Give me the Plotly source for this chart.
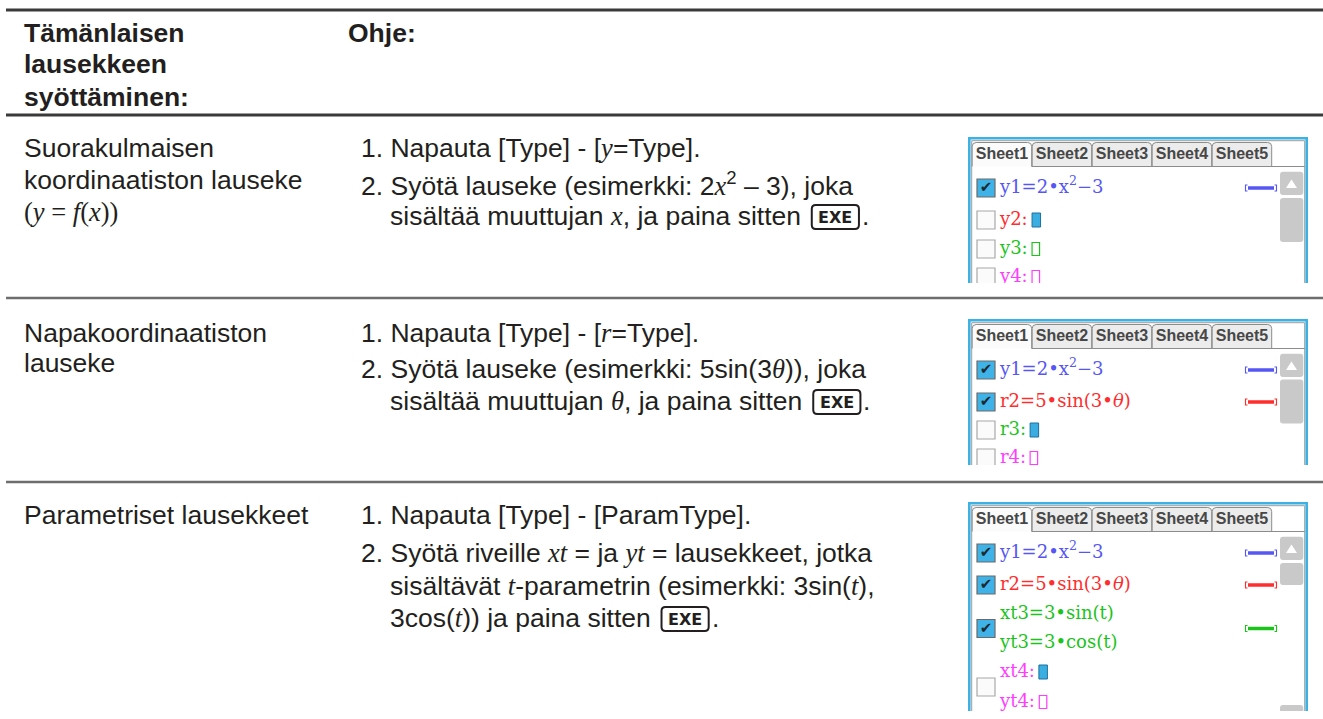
import re
import plotly.graph_objects as go

# ---------------- content of the table ----------------
header_left = ["Tämänlaisen", "lausekkeen", "syöttäminen:"]
header_right = "Ohje:"

# {..} = italic serif variable, ^..^ = superscript, [EXE] = key glyph, leading § = serif line
row_labels = [
    ["Suorakulmaisen", "koordinaatiston lauseke", "§({y} = {f}({x}))"],
    ["Napakoordinaatiston", "lauseke"],
    ["Parametriset lausekkeet"],
]

row_steps = [
    [["1. Napauta [Type] - [{y}=Type]."],
     ["2. Syötä lauseke (esimerkki: 2{x}^2^ – 3), joka",
      "sisältää muuttujan {x}, ja paina sitten [EXE]."]],
    [["1. Napauta [Type] - [{r}=Type]."],
     ["2. Syötä lauseke (esimerkki: 5sin(3{θ})), joka",
      "sisältää muuttujan {θ}, ja paina sitten [EXE]."]],
    [["1. Napauta [Type] - [ParamType]."],
     ["2. Syötä riveille {xt} = ja {yt} = lausekkeet, jotka",
      "sisältävät {t}-parametrin (esimerkki: 3sin({t}),",
      "3cos({t})) ja paina sitten [EXE]."]],
]

sheet_tabs = ["Sheet1", "Sheet2", "Sheet3", "Sheet4", "Sheet5"]

# screen entries: (lines, colour, checked); trailing '#' = filled cursor, '_' = empty cursor
screen_entries = [
    [(["y1=2•x<sup>2</sup>−3"], "blue", True),
     (["y2:#"], "red", False),
     (["y3:_"], "green", False),
     (["y4:_"], "magenta", False)],
    [(["y1=2•x<sup>2</sup>−3"], "blue", True),
     (["r2=5•sin(3•<i>θ</i>)"], "red", True),
     (["r3:#"], "green", False),
     (["r4:_"], "magenta", False)],
    [(["y1=2•x<sup>2</sup>−3"], "blue", True),
     (["r2=5•sin(3•<i>θ</i>)"], "red", True),
     (["xt3=3•sin(t)", "yt3=3•cos(t)"], "green", True),
     (["xt4:#", "yt4:_"], "magenta", False)],
]

# ---------------- layout constants ----------------
W, H = 1323, 719
BODY = 26.5
SANS = "Liberation Sans, Arial, Helvetica, sans-serif"
SERIF = "Liberation Serif, Times New Roman, serif"
SCREEN_FONT = "DejaVu Serif, serif"
SCREEN_SIZE = 18
INK = "#231f20"

LABEL_X, OHJE_X, STEP_X = 23, 347, 360
HEAD_Y = [33, 64, 97]
label_y = [[148, 180, 212], [333, 363], [515]]
step_y = [[[148], [184, 216]], [[333], [369, 401]], [[515], [553, 586, 618]]]
rule_y = [(10, 3, "#3a3a3a"), (115, 3, "#3a3a3a"), (298, 2.5, "#6e6e6e"), (482, 2.5, "#6e6e6e")]

screen_boxes = [(968, 137, 1308, 283), (968, 319, 1308, 465), (968, 502, 1308, 711)]
screen_row_y = [[[51], [83], [112], [140]],
                [[51], [83], [111], [139]],
                [[51], [83], [112, 141], [170, 200]]]
screen_thumbs = [[(61, 105)], [(60.5, 104.5)], [(61, 83), (203, 226)]]
ROW_COL = {"blue": "#5656f5", "red": "#ff2d2d", "green": "#1bc41b", "magenta": "#ff3cff"}

# ---------------- font metrics ----------------
ARIAL = {' ': 278, '!': 278, '(': 333, ')': 333, ',': 278, '-': 333, '.': 278, ':': 278,
         '=': 584, '[': 278, ']': 278, '–': 556}
for c in "0123456789":
    ARIAL[c] = 556
for c, w in zip("ABCDEFGHIJKLMNOPQRSTUVWXYZ",
                [667, 667, 722, 722, 667, 611, 778, 722, 278, 500, 667, 556, 833, 722, 778,
                 667, 778, 722, 667, 611, 722, 667, 944, 667, 667, 611]):
    ARIAL[c] = w
for c, w in zip("abcdefghijklmnopqrstuvwxyz",
                [556, 556, 500, 556, 556, 278, 556, 556, 222, 222, 500, 222, 833, 556, 556,
                 556, 556, 333, 500, 278, 556, 500, 722, 500, 500, 500]):
    ARIAL[c] = w
ARIAL.update({'ä': 556, 'ö': 556})
TIMES = {'(': 333, ')': 333, ' ': 250, '=': 564}
TIMES_I = {'x': 444, 'y': 444, 'r': 389, 't': 278, 'f': 278, 'θ': 500}
DJSERIF = {'y': 586, 'x': 564, 't': 402, 'r': 478, ':': 337}
for c in "0123456789":
    DJSERIF[c] = 636

TOKEN = re.compile(r"(\{[^}]*\}|\^[^^]*\^|\[EXE\])")


def parse(s):
    out = []
    for p in TOKEN.split(s):
        if not p:
            continue
        if p.startswith("{"):
            out.append(("i", p[1:-1]))
        elif p == "[EXE]":
            out.append(("key", "EXE"))
        elif p.startswith("^") and p.endswith("^") and len(p) > 1:
            out.append(("sup", p[1:-1]))
        else:
            out.append(("n", p))
    return out


def seg_width(kind, txt, size, serif=False):
    if kind == "i":
        return sum(TIMES_I.get(c, 444) for c in txt) / 1000 * size
    if kind == "sup":
        return sum(ARIAL.get(c, 556) for c in txt) / 1000 * size * 0.7
    table = TIMES if serif else ARIAL
    return sum(table.get(c, 556) for c in txt) / 1000 * size


def seg_html(kind, txt):
    if kind == "i":
        return '<i><span style="font-family:Liberation Serif">' + txt + '</span></i>'
    if kind == "sup":
        return "<sup>" + txt + "</sup>"
    return txt


shapes, annotations = [], []


def ann(x, y, text, size=BODY, family=SANS, color=INK, xanchor="left"):
    annotations.append(dict(x=x, y=y, xref="x", yref="y", text=text, showarrow=False,
                            xanchor=xanchor, yanchor="middle", align="left", borderpad=0,
                            font=dict(family=family, size=size, color=color)))


def rrect(x0, y0, x1, y1, r):
    return (f"M{x0 + r},{y0} L{x1 - r},{y0} Q{x1},{y0} {x1},{y0 + r} L{x1},{y1 - r} "
            f"Q{x1},{y1} {x1 - r},{y1} L{x0 + r},{y1} Q{x0},{y1} {x0},{y1 - r} "
            f"L{x0},{y0 + r} Q{x0},{y0} {x0 + r},{y0} Z")


def draw_line(x, y, markup):
    serif = markup.startswith("§")
    if serif:
        markup = markup[1:]
    fam = SERIF if serif else SANS
    html, width, start = "", 0.0, x
    for kind, txt in parse(markup):
        if kind == "key":
            if html:
                ann(start, y, html, family=fam)
            kx0 = start + width + 4
            kw, kh = 1.78 * BODY, 0.9 * BODY
            shapes.append(dict(type="path", xref="x", yref="y", layer="below",
                               path=rrect(kx0, y - kh / 2 + 1, kx0 + kw, y + kh / 2 + 1, 4),
                               line=dict(color=INK, width=2), fillcolor="white"))
            ann(kx0 + kw / 2, y + 1, "<b>EXE</b>", size=16, family="DejaVu Sans, sans-serif",
                xanchor="center")
            start, html, width = kx0 + kw + 2, "", 0.0
        else:
            html += seg_html(kind, txt)
            width += seg_width(kind, txt, BODY, serif)
    if html:
        ann(start, y, html, family=fam)


# ---------------- main table ----------------
for yy, lw, col in rule_y:
    shapes.append(dict(type="line", xref="x", yref="y", x0=6, x1=W, y0=yy, y1=yy,
                       line=dict(color=col, width=lw), layer="below"))

for t, yy in zip(header_left, HEAD_Y):
    ann(LABEL_X, yy, "<b>" + t + "</b>")
ann(OHJE_X, HEAD_Y[0], "<b>" + header_right + "</b>")

for labels, ys in zip(row_labels, label_y):
    for t, yy in zip(labels, ys):
        draw_line(LABEL_X, yy, t)

for steps, ys in zip(row_steps, step_y):
    for step, sy in zip(steps, ys):
        indent = seg_width("n", step[0][:3], BODY)
        for k, (line, yy) in enumerate(zip(step, sy)):
            draw_line(STEP_X if k == 0 else STEP_X + indent, yy, line)

fig = go.Figure()
fig.add_trace(go.Scatter(x=[0], y=[0], mode="markers", marker=dict(size=1, opacity=0),
                         xaxis="x", yaxis="y", showlegend=False, hoverinfo="skip"))

layout_axes = {}

# ---------------- calculator screens ----------------
for si, (box, entries, rows, thumbs) in enumerate(zip(screen_boxes, screen_entries,
                                                       screen_row_y, screen_thumbs)):
    n = si + 2
    xa, ya = f"x{n}", f"y{n}"
    x0, y0, x1, y1 = box
    sw, sh = x1 - x0, y1 - y0
    layout_axes[f"xaxis{n}"] = dict(domain=[x0 / W, x1 / W], range=[0, sw], visible=False,
                                    anchor=ya, fixedrange=True)
    layout_axes[f"yaxis{n}"] = dict(domain=[1 - y1 / H, 1 - y0 / H], range=[sh, 0],
                                    visible=False, anchor=xa, fixedrange=True)

    def S(**kw):
        shapes.append(dict(xref=xa, yref=ya, layer="below", **kw))

    S(type="rect", x0=0, x1=sw, y0=0, y1=sh + 60, fillcolor="white", line=dict(width=0))
    S(type="rect", x0=3.7, x1=sw - 3.3, y0=3.7, y1=sh + 60, line=dict(color="#9c9c9c", width=1))
    # tabs
    tab_cx = []
    for j in range(len(sheet_tabs)):
        tx0 = 4.2 + 60 * j
        tx1 = tx0 + 59.5
        tab_cx.append((tx0 + tx1) / 2)
        p = (f"M{tx0},29.5 L{tx0},{9.5} Q{tx0},5.5 {tx0 + 4},5.5 L{tx1 - 4},5.5 "
             f"Q{tx1},5.5 {tx1},9.5 L{tx1},29.5" + (" Z" if j else ""))
        S(type="path", path=p, fillcolor="#fbfbfb" if j == 0 else "#ececec",
          line=dict(color="#8c8c8c", width=1))
    S(type="line", x0=63.7, x1=sw - 3.3, y0=29.5, y1=29.5, line=dict(color="#8c8c8c", width=1))
    S(type="rect", x0=1.3, x1=sw - 1.3, y0=1.3, y1=sh + 60, line=dict(color="#3cb1e3", width=2.6))
    # scroll bar
    S(type="path", path=rrect(312, 34.7, 335.3, 58, 3), fillcolor="#c9c9c9", line=dict(width=0))
    S(type="path", path="M318,51 L329,51 L323.5,42.5 Z", fillcolor="white", line=dict(width=0))
    for t0, t1 in thumbs:
        S(type="path", path=rrect(312, t0, 335.3, t1, 3), fillcolor="#c9c9c9", line=dict(width=0))

    fig.add_trace(go.Scatter(x=tab_cx, y=[17.5] * len(tab_cx),
                             text=["<b>" + t + "</b>" for t in sheet_tabs], mode="text",
                             textposition="middle center", xaxis=xa, yaxis=ya,
                             textfont=dict(family=SANS, size=16, color="#474747"),
                             hoverinfo="skip", showlegend=False, cliponaxis=True))

    tx, ty, tt, tc = [], [], [], []
    cx, cy_list = [], []
    for (lines, colname, checked), ly in zip(entries, rows):
        col = ROW_COL[colname]
        cy = sum(ly) / len(ly)
        S(type="rect", x0=9, x1=27, y0=cy - 9, y1=cy + 9,
          fillcolor="#3fb3e8" if checked else "#fbfbfb",
          line=dict(color="#6a6a6a" if checked else "#a8a8a8", width=1.2))
        if checked:
            cx.append(18)
            cy_list.append(cy + 0.5)
            S(type="line", x0=280, x1=306, y0=cy, y1=cy, line=dict(color=col, width=3.5))
            S(type="path", path=f"M279.5,{cy - 3} L277.5,{cy - 3} L277.5,{cy + 3} L279.5,{cy + 3}",
              line=dict(color=col, width=1.1))
            S(type="path", path=f"M306.5,{cy - 3} L308.5,{cy - 3} L308.5,{cy + 3} L306.5,{cy + 3}",
              line=dict(color=col, width=1.1))
        for line, yy in zip(lines, ly):
            label = line
            cursor = None
            if line.endswith("#") or line.endswith("_"):
                label, cursor = line[:-1], line[-1]
            tx.append(32)
            ty.append(yy)
            tt.append(label)
            tc.append(col)
            if cursor:
                kx = 32 + sum(DJSERIF.get(c, 600) for c in label) / 1000 * SCREEN_SIZE + 4
                if cursor == "#":
                    S(type="rect", x0=kx, x1=kx + 8.5, y0=yy - 7, y1=yy + 7,
                      fillcolor="#3aaee0", line=dict(color="#1d6fa0", width=1))
                else:
                    S(type="rect", x0=kx, x1=kx + 7.5, y0=yy - 6.5, y1=yy + 6.5,
                      fillcolor="rgba(0,0,0,0)", line=dict(color=col, width=1.2))
    fig.add_trace(go.Scatter(x=tx, y=ty, text=tt, mode="text", textposition="middle right",
                             xaxis=xa, yaxis=ya,
                             textfont=dict(family=SCREEN_FONT, size=SCREEN_SIZE, color=tc),
                             hoverinfo="skip", showlegend=False, cliponaxis=True))
    fig.add_trace(go.Scatter(x=cx, y=cy_list, text=["✔"] * len(cx), mode="text",
                             textposition="middle center", xaxis=xa, yaxis=ya,
                             textfont=dict(family="DejaVu Sans, sans-serif", size=15, color="#1e2a30"),
                             hoverinfo="skip", showlegend=False, cliponaxis=True))

fig.update_layout(
    width=W, height=H, margin=dict(l=0, r=0, t=0, b=0),
    paper_bgcolor="white", plot_bgcolor="white", showlegend=False,
    xaxis=dict(domain=[0, 1], range=[0, W], visible=False, fixedrange=True),
    yaxis=dict(domain=[0, 1], range=[H, 0], visible=False, fixedrange=True),
    shapes=shapes, annotations=annotations, **layout_axes,
)
fig.write_html("out.html", config={"displayModeBar": False},
               post_script="document.body.style.margin='0';document.body.style.overflow='hidden';")
